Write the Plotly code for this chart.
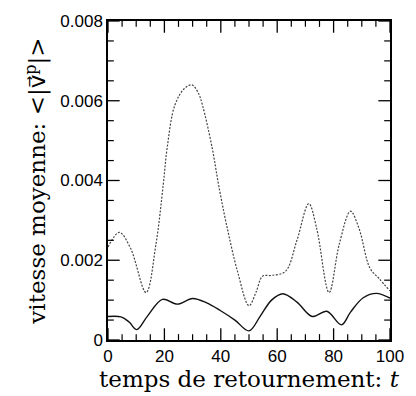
import plotly.graph_objects as go

t_upper = [0, 4, 8, 13.5, 17, 19.6, 21, 23.7, 27, 29.7, 32, 33.5, 36.9, 39.2, 42, 46, 50, 52.5, 54.8, 58, 62.9, 67, 71.2, 74, 78.4, 82, 86, 89, 92.9, 96, 100]
v_upper = [0.00233, 0.0027, 0.0023, 0.00119, 0.0024, 0.0039, 0.00483, 0.00589, 0.0063, 0.0064, 0.0062, 0.00589, 0.00483, 0.0039, 0.0029, 0.0017, 0.00086, 0.0012, 0.0016, 0.00162, 0.00172, 0.0025, 0.00342, 0.0028, 0.00119, 0.0024, 0.00323, 0.0028, 0.0018, 0.00155, 0.00123]

t_lower = [0, 4.6, 7.5, 10.2, 14, 19.3, 24.6, 30, 35, 39.8, 45, 50, 54, 58, 62, 67, 72.4, 77.6, 82.8, 86, 90.5, 95.2, 100]
v_lower = [0.00059, 0.00058, 0.00045, 0.00026, 0.0006, 0.00102, 0.0009, 0.00104, 0.00093, 0.00074, 0.0005, 0.00023, 0.0006, 0.001, 0.00116, 0.00095, 0.00059, 0.00072, 0.00038, 0.0007, 0.00106, 0.00117, 0.00105]

x_range = [0, 100]
y_range = [0, 0.008]
x_ticks = [0, 20, 40, 60, 80, 100]
y_ticks = [0, 0.002, 0.004, 0.006, 0.008]
y_ticktext = ["0", "0.002", "0.004", "0.006", "0.008"]
x_minor = [v for v in range(0, 101, 5) if v % 20]
y_minor = [i * 0.0005 for i in range(17) if i % 4]

W, H = 416, 396
ML, MR, MT, MB = 108, 18, 14, 56
px_x = (x_range[1] - x_range[0]) / (W - ML - MR)   # data units per pixel
px_y = (y_range[1] - y_range[0]) / (H - MT - MB)


def tick_path(xt, yt, length):
    xs, ys = [], []
    lx, ly = length * px_x, length * px_y
    for v in xt:
        xs += [v, v, None, v, v, None]
        ys += [y_range[0], y_range[0] + ly, None, y_range[1], y_range[1] - ly, None]
    for v in yt:
        xs += [x_range[0], x_range[0] + lx, None, x_range[1], x_range[1] - lx, None]
        ys += [v, v, None, v, v, None]
    return xs, ys


fig = go.Figure()
fig.add_trace(go.Scatter(x=t_upper, y=v_upper, mode="lines",
                         line=dict(color="#444", width=1.2, dash="2px,1.5px", shape="spline", smoothing=1.0)))
fig.add_trace(go.Scatter(x=t_lower, y=v_lower, mode="lines",
                         line=dict(color="#111", width=1.4, shape="spline", smoothing=1.0)))
mx, my = tick_path(x_ticks, y_ticks, 12)
fig.add_trace(go.Scatter(x=mx, y=my, mode="lines", line=dict(color="black", width=1.3),
                         hoverinfo="skip", cliponaxis=False, connectgaps=False))
nx, ny = tick_path(x_minor, y_minor, 6)
fig.add_trace(go.Scatter(x=nx, y=ny, mode="lines", line=dict(color="black", width=1.2),
                         hoverinfo="skip", cliponaxis=False, connectgaps=False))

tickfont = dict(family="Liberation Sans, Arial, sans-serif", size=17, color="black")

fig.update_layout(
    width=W, height=H,
    margin=dict(l=ML, r=MR, t=MT, b=MB),
    paper_bgcolor="white", plot_bgcolor="white",
    showlegend=False,
    xaxis=dict(range=x_range, tickvals=x_ticks, ticks="", showgrid=False, zeroline=False,
               showline=True, linecolor="black", linewidth=1.5, mirror=True, tickfont=tickfont,
               title=dict(text="temps de retournement: <i>t</i>", standoff=0,
                          font=dict(family="DejaVu Serif, serif", size=23, color="black"))),
    yaxis=dict(range=y_range, tickvals=y_ticks, ticktext=y_ticktext, ticks="", showgrid=False,
               zeroline=False, showline=True, linecolor="black", linewidth=1.5, mirror=True,
               tickfont=tickfont,
               title=dict(text="vitesse moyenne: <|<span style=\"font-family:DejaVu Sans\">v\u20d7</span><sup>p</sup>|>",
                          standoff=8, font=dict(family="DejaVu Serif, serif", size=23, color="black"))),
)
fig.write_html("out.html")
